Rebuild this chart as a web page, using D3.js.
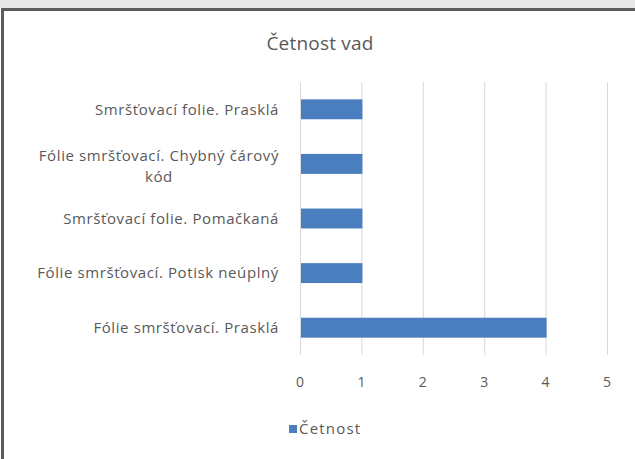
<!DOCTYPE html>
<html>
<head>
<meta charset="utf-8">
<script src="https://cdn.jsdelivr.net/npm/d3@7"></script>
<style>
  html, body { margin: 0; padding: 0; background: #fff; }
  svg { display: block; }
  text { font-family: "Open Sans", "Noto Sans", sans-serif; fill: #595959; }
</style>
</head>
<body>
<svg id="chart" width="635" height="459"></svg>
<script>
const title = "Četnost vad";
const categories = [
  "Smršťovací folie. Prasklá",
  "Fólie smršťovací. Chybný čárový kód",
  "Smršťovací folie. Pomačkaná",
  "Fólie smršťovací. Potisk neúplný",
  "Fólie smršťovací. Prasklá"
];
const values = [1, 1, 1, 1, 4];
const xTicks = [0, 1, 2, 3, 4, 5];
const seriesName = "Četnost";

const W = 635, H = 459;
const barColor = "#4a7ebf";
const svg = d3.select("#chart");

svg.append("rect").attr("x", 0).attr("y", 0).attr("width", W).attr("height", H).attr("fill", "#fff");
// screenshot frame
svg.append("rect").attr("x", 0).attr("y", 0).attr("width", W).attr("height", 8).attr("fill", "#e8e8e8");
svg.append("line").attr("x1", 1).attr("x2", W).attr("y1", 9.5).attr("y2", 9.5)
  .attr("stroke", "#5c5c5c").attr("stroke-width", 3);
svg.append("line").attr("x1", 2.5).attr("x2", 2.5).attr("y1", 8).attr("y2", H)
  .attr("stroke", "#5c5c5c").attr("stroke-width", 3);

const x = d3.scaleLinear().domain([0, 5]).range([300, 607]);
const y = d3.scaleBand().domain(categories.map((c, i) => i))
  .range([82, 355]).paddingInner(0.635).paddingOuter(0.3175);

// title
svg.append("text").attr("x", 320).attr("y", 50).attr("text-anchor", "middle")
  .style("font-size", "19px").style("letter-spacing", "0.2px").text(title);

// gridlines
svg.append("g").selectAll("line").data(xTicks).join("line")
  .attr("x1", d => x(d) + 0.5).attr("x2", d => x(d) + 0.5)
  .attr("y1", 82).attr("y2", 355)
  .attr("stroke", "#d9d9d9").attr("stroke-width", 1);

// bars
svg.append("g").selectAll("rect").data(values).join("rect")
  .attr("x", x(0) + 1).attr("y", (d, i) => y(i))
  .attr("width", d => x(d) - x(0)).attr("height", y.bandwidth())
  .attr("fill", barColor);

// x tick labels
svg.append("g").selectAll("text").data(xTicks).join("text")
  .attr("x", d => x(d)).attr("y", 382).attr("dy", "0.35em")
  .attr("text-anchor", "middle").style("font-size", "14px").text(d => d);

// category labels with wrapping
const labelRight = 279, maxW = 258, lineH = 21, ls = "0.6px";
const lg = svg.append("g");
function measure(s) {
  const t = lg.append("text").style("font-size", "15px").style("letter-spacing", ls).text(s);
  const w = t.node().getComputedTextLength();
  t.remove();
  return w;
}
categories.forEach((c, i) => {
  const cy = y(i) + y.bandwidth() / 2;
  const words = c.split(" ");
  const lines = [];
  let cur = [];
  words.forEach(w => {
    const test = cur.concat([w]).join(" ");
    if (measure(test) > maxW && cur.length) {
      lines.push(cur.join(" "));
      cur = [w];
    } else cur.push(w);
  });
  lines.push(cur.join(" "));
  const maxLine = d3.max(lines, measure);
  const cx = labelRight - maxLine / 2;
  const offset = lines.length > 1 ? 2 : 0;
  lines.forEach((l, j) => {
    lg.append("text")
      .attr("x", lines.length > 1 ? cx : labelRight)
      .attr("text-anchor", lines.length > 1 ? "middle" : "end")
      .attr("y", cy + offset + (j - (lines.length - 1) / 2) * lineH)
      .attr("dy", "0.35em")
      .style("font-size", "15px").style("letter-spacing", ls)
      .text(l);
  });
});

// legend
svg.append("rect").attr("x", 289).attr("y", 425).attr("width", 8).attr("height", 8).attr("fill", barColor);
svg.append("text").attr("x", 299).attr("y", 429).attr("dy", "0.35em")
  .style("font-size", "15px").style("letter-spacing", "1.2px").text(seriesName);
</script>
</body>
</html>
